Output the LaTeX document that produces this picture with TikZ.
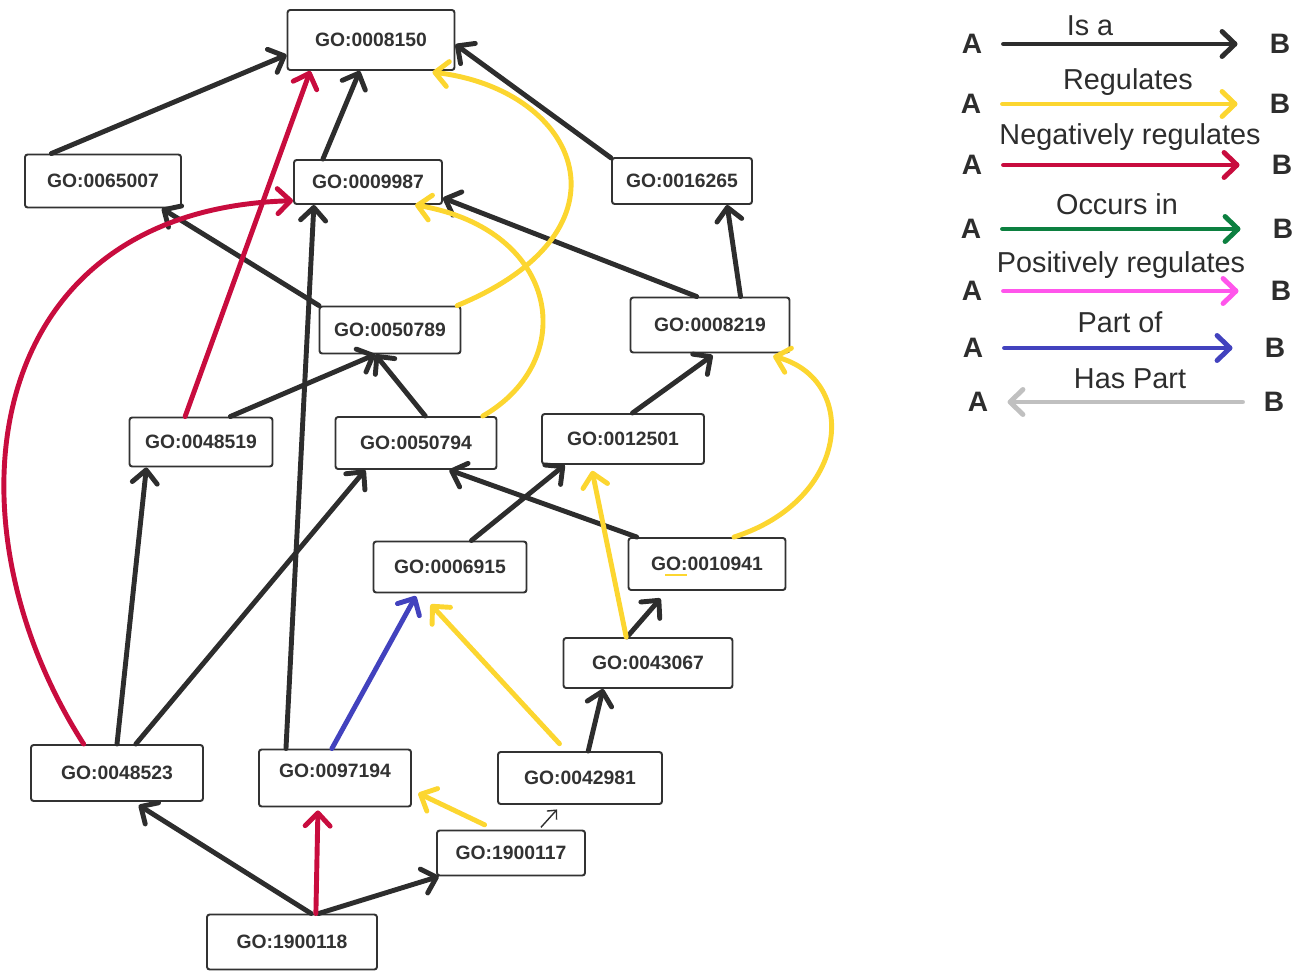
\documentclass[tikz,border=0pt]{standalone}
\usepackage{fontspec}
\setmainfont{Liberation Sans}
\usetikzlibrary{arrows.meta}
\definecolor{isagray}{RGB}{45,45,45}
\definecolor{boxline}{RGB}{50,50,50}
\definecolor{regyellow}{RGB}{252,214,48}
\definecolor{negred}{RGB}{200,12,62}
\definecolor{occgreen}{RGB}{12,128,64}
\definecolor{posmagenta}{RGB}{255,85,235}
\definecolor{partblue}{RGB}{66,66,190}
\definecolor{haslight}{RGB}{192,192,192}

\begin{document}
\begin{tikzpicture}[x=0.02cm, y=-0.02cm,
    goterm/.style={rectangle, draw=boxline, line width=1.1pt, rounded corners=1.5pt, fill=white, inner sep=0pt, font=\fontsize{11}{13}\selectfont\bfseries, text=boxline},
    link/.style={line width=2.8pt, line cap=round, -{Straight Barb[length=2.6mm,width=5mm,round]}},
    isa/.style={link, draw=isagray},
    reg/.style={link, draw=regyellow},
    negreg/.style={link, draw=negred},
    occurs/.style={link, draw=occgreen},
    posreg/.style={link, draw=posmagenta},
    partof/.style={link, draw=partblue},
    haspart/.style={line width=2.8pt, line cap=round, {Straight Barb[length=2.6mm,width=5mm,round]}-, draw=haslight},
    legab/.style={inner sep=0pt, font=\fontsize{16}{18}\selectfont\bfseries, text=isagray},
    legtext/.style={inner sep=0pt, font=\fontsize{16.4}{18}\selectfont, text=isagray},
    legarrow/.style={shorten <=0.42cm, shorten >=0.64cm}]
  \useasboundingbox (0,0) rectangle (1301,973);

  % GO terms
  \node (n0008150) [goterm, minimum width=3.34cm, minimum height=1.2cm] at (371,40) {GO:0008150};
  \node (n0065007) [goterm, minimum width=3.12cm, minimum height=1.06cm] at (103,181) {GO:0065007};
  \node (n0009987) [goterm, minimum width=2.96cm, minimum height=0.88cm] at (368,182) {GO:0009987};
  \node (n0016265) [goterm, minimum width=2.8cm, minimum height=0.92cm] at (682,181) {GO:0016265};
  \node (n0050789) [goterm, minimum width=2.82cm, minimum height=0.94cm] at (390,330) {GO:0050789};
  \node (n0008219) [goterm, minimum width=3.18cm, minimum height=1.1cm] at (710,325) {GO:0008219};
  \node (n0048519) [goterm, minimum width=2.86cm, minimum height=0.98cm] at (201,442) {GO:0048519};
  \node (n0050794) [goterm, minimum width=3.22cm, minimum height=1.04cm] at (416,443) {GO:0050794};
  \node (n0012501) [goterm, minimum width=3.24cm, minimum height=1.0cm] at (623,439) {GO:0012501};
  \node (n0006915) [goterm, minimum width=3.06cm, minimum height=1.02cm] at (450,567) {GO:0006915};
  \node (n0010941) [goterm, minimum width=3.14cm, minimum height=1.04cm] at (707,564) {GO:0010941};
  \node (n0043067) [goterm, minimum width=3.38cm, minimum height=1.0cm] at (648,663) {GO:0043067};
  \node (n0048523) [goterm, minimum width=3.44cm, minimum height=1.12cm] at (117,773) {GO:0048523};
  \node (n0097194) [goterm, minimum width=3.04cm, minimum height=1.14cm, text depth=8.5pt] at (335,778) {GO:0097194};
  \node (n0042981) [goterm, minimum width=3.28cm, minimum height=1.04cm] at (580,778) {GO:0042981};
  \node (n1900117) [goterm, minimum width=2.96cm, minimum height=0.9cm] at (511,853) {GO:1900117};
  \node (n1900118) [goterm, minimum width=3.4cm, minimum height=1.1cm] at (292,942) {GO:1900118};
  \draw[regyellow, line width=1pt] (665,575) -- (687,575);

  % is a
  \draw[isa] (n0065007.152) -- (n0008150.190);
  \draw[isa] (n0009987.153) -- (n0008150.250);
  \draw[isa] (n0016265.162) -- (n0008150.357);
  \draw[isa] (n0050789.161) -- (n0065007.335);
  \draw[isa] (n0008219.115) -- (n0009987.348);
  \draw[isa] (n0008219.43) -- (n0016265.332);
  \draw[isa] (n0048519.41) -- (n0050789.239);
  \draw[isa] (n0050794.71) -- (n0050789.239);
  \draw[isa, shorten >=0.06cm] (n0012501.70) -- (n0008219.280);
  \draw[isa] (n0006915.51) -- (n0012501.204);
  \draw[isa] (n0010941.159) -- (n0050794.321);
  \draw[isa, shorten >=0.2cm] (n0043067.129) -- (n0010941.214);
  \draw[isa] (n0042981.73) -- (n0043067.210);
  \draw[isa] (n0048523.90) -- (n0048519.205);
  \draw[isa] (n0048523.57) -- (n0050794.208);
  \draw[isa] (n0097194.149) -- (n0009987.203);
  \draw[isa, shorten >=0.12cm] (n1900118.56) -- (n0048523.300);
  \draw[isa] (n1900118.47) -- (n1900117.198);
  \draw[isagray, line width=0.8pt, -{Straight Barb[length=1.4mm,width=2.6mm]}, shorten <=0.06cm, shorten >=0.12cm] (n1900117.40) -- (n0042981.235);

  % negatively regulates
  \draw[negreg] (n0048523.139) .. controls (-60,520) and (-20,210) .. (n0009987.194);
  \draw[negreg] (n0048519.122) -- (n0008150.207);
  \draw[negreg, shorten >=0.06cm] (n1900118.50) -- (n0097194.240);

  % regulates
  \draw[reg, shorten >=0.2cm] (n0050789.20) .. controls (640,230) and (580,90) .. (n0008150.329);
  \draw[reg] (n0050794.22) .. controls (580,360) and (560,230) .. (n0009987.334);
  \draw[reg, shorten >=0.2cm] (n0010941.45) .. controls (850,500) and (860,380) .. (n0008219.332);
  \draw[reg, shorten >=0.12cm] (n0043067.130) -- (n0012501.219);
  \draw[reg, shorten <=0.2cm, shorten >=0.3cm] (n0042981.117) -- (n0006915.222);
  \draw[reg, shorten <=0.22cm, shorten >=0.14cm] (n1900117.125) -- (n0097194.351);

  % part of
  \draw[partof, shorten >=0.06cm] (n0097194.96) -- (n0006915.219);

  % legend
  \node (la1) [legab] at (972,44) {A};
  \node (lb1) [legab] at (1280,44) {B};
  \draw[isa, legarrow] (la1) -- (lb1);
  \node (lt1) [legtext] at (1090,26) {Is a};
  \node (la2) [legab] at (971,104) {A};
  \node (lb2) [legab] at (1280,104) {B};
  \draw[reg, legarrow] (la2) -- (lb2);
  \node (lt2) [legtext] at (1128,82) {Regulates};
  \node (la3) [legab] at (972,165) {A};
  \node (lb3) [legab] at (1282,165) {B};
  \draw[negreg, legarrow] (la3) -- (lb3);
  \node (lt3) [legtext] at (1130,137) {Negatively regulates};
  \node (la4) [legab] at (971,229) {A};
  \node (lb4) [legab] at (1283,229) {B};
  \draw[occurs, legarrow] (la4) -- (lb4);
  \node (lt4) [legtext] at (1117,204) {Occurs in};
  \node (la5) [legab] at (972,291) {A};
  \node (lb5) [legab] at (1281,291) {B};
  \draw[posreg, legarrow] (la5) -- (lb5);
  \node (lt5) [legtext] at (1121,265) {Positively regulates};
  \node (la6) [legab] at (973,348) {A};
  \node (lb6) [legab] at (1275,348) {B};
  \draw[partof, legarrow] (la6) -- (lb6);
  \node (lt6) [legtext] at (1120,322) {Part of};
  \node (la7) [legab] at (978,402) {A};
  \node (lb7) [legab] at (1274,402) {B};
  \draw[haspart, shorten <=0.38cm, shorten >=0.42cm] (la7) -- (lb7);
  \node (lt7) [legtext] at (1130,379) {Has Part};
\end{tikzpicture}
\end{document}
